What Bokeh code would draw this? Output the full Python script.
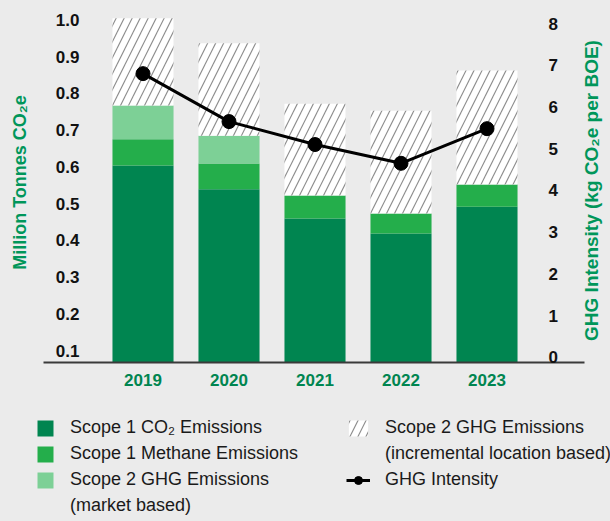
from bokeh.plotting import figure
from bokeh.models import (ColumnDataSource, Range1d, LinearAxis, FixedTicker,
                          Legend, LegendItem, Label)
from bokeh.transform import stack
from bokeh.embed import file_html
from bokeh.resources import INLINE
import math

# ---------------- data ----------------
years = ["2019", "2020", "2021", "2022", "2023"]
scope1_co2 = [0.604, 0.539, 0.460, 0.419, 0.492]
scope1_methane = [0.071, 0.070, 0.062, 0.054, 0.060]
scope2_market = [0.092, 0.076, 0.0, 0.0, 0.0]
scope2_location_incr = [0.237, 0.251, 0.250, 0.280, 0.310]
ghg_intensity = [6.80, 5.65, 5.10, 4.65, 5.48]

left_ticks = [0.1, 0.2, 0.3, 0.4, 0.5, 0.6, 0.7, 0.8, 0.9, 1.0]
left_tick_labels = ["0.1", "0.2", "0.3", "0.4", "0.5", "0.6", "0.7", "0.8", "0.9", "1.0"]
right_ticks = [0, 1, 2, 3, 4, 5, 6, 7, 8]

# ---------------- styles / layout ----------------
BG = "#ebebeb"
DARK = "#008550"
MID = "#24ae4b"
LIGHT = "#7dd096"
TITLE_GREEN = "#00965a"
FONT = "Liberation Sans"
W_PX, H_PX = 610, 521

# pixel <-> data conversions for the full-canvas frame
PX_PER_X = 86.0
X0_PX = 142.5
def px_x(px):
    return (px - X0_PX) / PX_PER_X
def py_left(py):
    return 0.55 + (184.8 - py) / 367.8
def py_right(py):
    return 4 + (189.9 - py) / 41.7

BASE = py_left(362)  # value at the baseline of the bars

xs = list(range(len(years)))
src = ColumnDataSource(dict(x=xs, co2=scope1_co2, methane=scope1_methane,
                            market=scope2_market, location=scope2_location_incr,
                            intensity=ghg_intensity))

p = figure(width=W_PX, height=H_PX,
           x_range=Range1d(px_x(0), px_x(W_PX)), y_range=Range1d(py_left(H_PX), py_left(0)),
           output_backend="svg", toolbar_location=None,
           min_border=0, min_border_left=0, min_border_right=0,
           min_border_top=0, min_border_bottom=0,
           background_fill_color=BG, border_fill_color=BG, outline_line_color=None)
p.grid.visible = False
p.extra_y_ranges = {"intensity": Range1d(py_right(H_PX), py_right(0))}

WBAR = 0.71
r_co2 = p.vbar(x="x", width=WBAR, bottom=BASE, top=stack("co2"), source=src,
               fill_color=DARK, line_color=None)
r_meth = p.vbar(x="x", width=WBAR, bottom=stack("co2"), top=stack("co2", "methane"), source=src,
                fill_color=MID, line_color=None)
r_mkt = p.vbar(x="x", width=WBAR, bottom=stack("co2", "methane"),
               top=stack("co2", "methane", "market"), source=src,
               fill_color=LIGHT, line_color=None)
r_loc = p.vbar(x="x", width=WBAR, bottom=stack("co2", "methane", "market"),
               top=stack("co2", "methane", "market", "location"), source=src,
               fill_color="white", line_color=None, hatch_pattern="/",
               hatch_color="#8f8f8f", hatch_weight=1.2, hatch_scale=16)

r_line = p.line(x="x", y="intensity", source=src, y_range_name="intensity",
                line_color="black", line_width=3)
r_dots = p.scatter(x="x", y="intensity", source=src, y_range_name="intensity",
                   size=14, fill_color="black", line_color="black")

# dummy renderers for second lines of legend labels
r_blank1 = p.rect(x=[], y=[], width=1, height=1, fill_alpha=0, line_alpha=0)
r_blank2 = p.rect(x=[], y=[], width=1, height=1, fill_alpha=0, line_alpha=0)

# ---------------- axes ----------------
xa = p.xaxis[0]
xa.ticker = FixedTicker(ticks=xs)
xa.major_label_overrides = {i: y for i, y in enumerate(years)}
xa.fixed_location = BASE
xa.bounds = (px_x(43), px_x(584))
xa.axis_line_color = "#3a3a3a"
xa.axis_line_width = 2
xa.major_tick_line_color = None
xa.minor_tick_line_color = None
xa.major_label_standoff = 5
xa.major_label_text_font = FONT
xa.major_label_text_font_size = "17px"
xa.major_label_text_font_style = "bold"
xa.major_label_text_color = DARK

ya = p.yaxis[0]
ya.ticker = FixedTicker(ticks=left_ticks)
ya.major_label_overrides = {t: l for t, l in zip(left_ticks, left_tick_labels)}
ya.fixed_location = px_x(90)
ya.axis_line_color = None
ya.major_tick_line_color = None
ya.minor_tick_line_color = None
ya.major_label_standoff = 5
ya.major_label_text_font = FONT
ya.major_label_text_font_size = "17px"
ya.major_label_text_font_style = "bold"
ya.major_label_text_color = "#111111"

ra = LinearAxis(y_range_name="intensity", ticker=FixedTicker(ticks=right_ticks),
                fixed_location=px_x(537), axis_line_color=None, major_tick_line_color=None,
                minor_tick_line_color=None, major_label_standoff=5,
                major_label_text_font=FONT, major_label_text_font_size="17px",
                major_label_text_font_style="bold", major_label_text_color="#111111")
p.add_layout(ra, "right")

# axis titles
p.add_layout(Label(x=px_x(19), y=py_left(182), text="Million Tonnes CO\u2082e",
                   angle=math.pi / 2, text_align="center", text_baseline="middle",
                   text_font=FONT, text_font_size="18px", text_font_style="bold",
                   text_color=TITLE_GREEN))
p.add_layout(Label(x=px_x(591), y=py_left(190), text="GHG Intensity (kg CO\u2082e per BOE)",
                   angle=math.pi / 2, text_align="center", text_baseline="middle",
                   text_font=FONT, text_font_size="19px", text_font_style="bold",
                   text_color=TITLE_GREEN))

# ---------------- legends ----------------
common = dict(orientation="vertical", glyph_height=20, label_standoff=15, spacing=5,
              padding=0, margin=0, background_fill_alpha=0, border_line_alpha=0,
              label_text_font=FONT, label_text_font_size="18px",
              label_text_color="#1a1a1a", label_height=20)

leg_left = Legend(items=[
    LegendItem(label="Scope 1 CO\u2082 Emissions", renderers=[r_co2]),
    LegendItem(label="Scope 1 Methane Emissions", renderers=[r_meth]),
    LegendItem(label="Scope 2 GHG Emissions", renderers=[r_mkt]),
    LegendItem(label="(market based)", renderers=[r_blank1]),
], location=(35, H_PX - 421 - 95), glyph_width=20, **common)

leg_right = Legend(items=[
    LegendItem(label="Scope 2 GHG Emissions", renderers=[r_loc]),
    LegendItem(label="(incremental location based)", renderers=[r_blank2]),
    LegendItem(label="GHG Intensity", renderers=[r_line, r_dots]),
], location=(346, H_PX - 420 - 70), glyph_width=24, **common)

p.add_layout(leg_left)
p.add_layout(leg_right)

html = file_html(p, INLINE, title="GHG Emissions")
html = html.replace("<head>", "<head><style>html,body{background:#ebebeb;}</style>", 1)
with open("out.html", "w") as f:
    f.write(html)
